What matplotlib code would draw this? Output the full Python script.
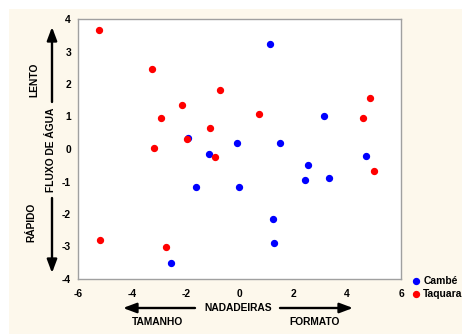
import matplotlib
matplotlib.use("Agg")
import matplotlib.pyplot as plt
from matplotlib.patches import Rectangle

plt.rcParams['font.family'] = ['Liberation Sans', 'DejaVu Sans']
plt.rcParams['font.weight'] = 'bold'
plt.rcParams['axes.unicode_minus'] = False

# Cambé (blue)
cambe_x = [1.13, -1.91, -1.13, -0.10, 1.50, 2.55, 3.14, 4.70, 2.43, 3.32,
           -1.62, -0.02, 1.24, 1.28, -2.55]
cambe_y = [3.23, 0.34, -0.15, 0.18, 0.19, -0.49, 1.02, -0.22, -0.95, -0.89,
           -1.17, -1.17, -2.15, -2.89, -3.52]
# Taquara (red)
taq_x = [-5.22, -3.25, -2.92, -3.18, -2.14, -1.95, -1.10, -0.91, -0.73, 0.72,
         -5.18, -2.73, 4.85, 4.59, 5.00]
taq_y = [3.66, 2.46, 0.95, 0.03, 1.35, 0.31, 0.65, -0.25, 1.82, 1.08,
         -2.80, -3.00, 1.57, 0.95, -0.67]

x_ticks = [-6, -4, -2, 0, 2, 4, 6]
y_ticks = [-4, -3, -2, -1, 0, 1, 2, 3, 4]

W, H = 462, 334
fs = 7.4
fig = plt.figure(figsize=(W / 100, H / 100), dpi=100)
fig.patch.set_facecolor("white")
fig.patches.append(Rectangle((9 / W, 0), 1 - 9 / W, 1 - 9 / H,
                             transform=fig.transFigure, facecolor="#fdf8ec",
                             edgecolor="none", zorder=-10))

ax = fig.add_axes([78 / W, 1 - 279 / H, 323 / W, 260 / H])
ax.set_facecolor("white")
ax.scatter(cambe_x, cambe_y, s=18, color="#0000ff", zorder=3, label="Cambé")
ax.scatter(taq_x, taq_y, s=18, color="#ff0000", zorder=3, label="Taquara")
ax.set_xlim(-6, 6)
ax.set_ylim(-4, 4)
ax.set_xticks(x_ticks)
ax.set_yticks(y_ticks)
ax.tick_params(length=0, labelsize=fs)
ax.tick_params(axis="x", pad=7)
ax.tick_params(axis="y", pad=5)
for s in ax.spines.values():
    s.set_color("#a0a0a0")
    s.set_linewidth(1.0)

fig.legend(loc="upper left", bbox_to_anchor=(410 / W, 1 - 276 / H),
           frameon=False, fontsize=fs, handletextpad=0.1, borderpad=0,
           labelspacing=0.25, handlelength=1.2, borderaxespad=0)

arrow = dict(arrowstyle="-|>,head_width=0.3,head_length=0.8", color="black", lw=1.7,
             shrinkA=0, shrinkB=0)
for start, end in [((52, H - 102), (52, H - 27)), ((52, H - 198), (52, H - 273)),
                   ((195, H - 308), (123, H - 308)), ((280, H - 308), (353, H - 308))]:
    fig.add_artist(plt.Annotation("", xy=end, xytext=start, xycoords="figure pixels",
                                  textcoords="figure pixels", arrowprops=arrow))

fig.text(34 / W, 1 - 80 / H, "LENTO", rotation=90, fontsize=fs, ha="center", va="center")
fig.text(51 / W, 1 - 150 / H, "FLUXO DE ÁGUA", rotation=90, fontsize=fs, ha="center", va="center")
fig.text(31 / W, 1 - 222 / H, "RÁPIDO", rotation=90, fontsize=fs, ha="center", va="center")
fig.text(238 / W, 1 - 308 / H, "NADADEIRAS", fontsize=fs, ha="center", va="center")
fig.text(157 / W, 1 - 322 / H, "TAMANHO", fontsize=fs, ha="center", va="center")
fig.text(315 / W, 1 - 322 / H, "FORMATO", fontsize=fs, ha="center", va="center")

fig.savefig("out.png", dpi=100, facecolor=fig.get_facecolor())
